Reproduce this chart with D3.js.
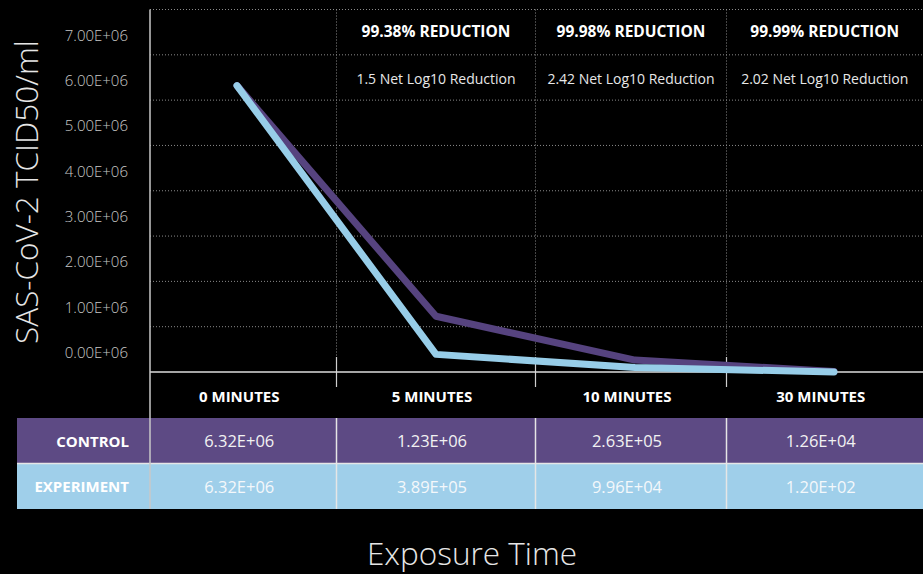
<!DOCTYPE html>
<html>
<head>
<meta charset="utf-8">
<script src="https://cdn.jsdelivr.net/npm/d3@7"></script>
<style>
  html, body { margin: 0; padding: 0; background: #000; }
  svg { display: block; font-family: "Open Sans", "Noto Sans", sans-serif; }
</style>
</head>
<body>
<svg id="chart" width="923" height="574"></svg>
<script>
// ---- data ----
const categories = ["0 MINUTES", "5 MINUTES", "10 MINUTES", "30 MINUTES"];
const seriesNames = ["CONTROL", "EXPERIMENT"];
const controlValues = [6.32e6, 1.23e6, 2.63e5, 1.26e4];
const experimentValues = [6.32e6, 3.89e5, 9.96e4, 1.20e2];
const reductionLabels = ["", "99.38% REDUCTION", "99.98% REDUCTION", "99.99% REDUCTION"];
const logReductionLabels = ["", "1.5 Net Log10 Reduction", "2.42 Net Log10 Reduction", "2.02 Net Log10 Reduction"];
const yTickValues = [0, 1e6, 2e6, 3e6, 4e6, 5e6, 6e6, 7e6];
const yTickLabels = ["0.00E+06", "1.00E+06", "2.00E+06", "3.00E+06", "4.00E+06", "5.00E+06", "6.00E+06", "7.00E+06"];
const yAxisTitle = "SAS-CoV-2 TCID50/ml";
const xAxisTitle = "Exposure Time";

// ---- layout ----
const W = 923, H = 574;
const plotLeft = 150, plotRight = 923, plotTop = 9.5, plotBottom = 372;
const tableLeft = 17, rowTop = 418, rowH = 45.5;
const colors = { control: "#5d4a84", experiment: "#9fcfea", controlLine: "#56437f", experimentLine: "#97cde8" };

const svg = d3.select("#chart");
svg.append("rect").attr("width", W).attr("height", H).attr("fill", "#000");

const y = d3.scaleLinear().domain([0, 8e6]).range([plotBottom, plotTop]);
const x = d3.scalePoint().domain(categories).range([237, 834]);

// column boundaries
const xs = categories.map(c => x(c));
const bounds = [plotLeft];
for (let i = 0; i < xs.length - 1; i++) bounds.push((xs[i] + xs[i + 1]) / 2 - (i === xs.length - 2 ? 8 : 0));
bounds.push(plotRight);
const colCenter = i => (bounds[i] + bounds[i + 1]) / 2;

// horizontal dotted gridlines
svg.append("g")
  .selectAll("line")
  .data(d3.range(1e6, 8e6 + 1, 1e6))
  .join("line")
  .attr("x1", plotLeft).attr("x2", plotRight)
  .attr("y1", d => y(d)).attr("y2", d => y(d))
  .attr("stroke", "#8a8a8a").attr("stroke-width", 1)
  .attr("stroke-dasharray", "1,2");

// vertical dotted gridlines + ticks
const innerBounds = bounds.slice(1, -1);
svg.append("g").selectAll("line").data(innerBounds).join("line")
  .attr("x1", d => d).attr("x2", d => d)
  .attr("y1", plotTop).attr("y2", plotBottom - 15)
  .attr("stroke", "#8a8a8a").attr("stroke-width", 1)
  .attr("stroke-dasharray", "1,2");
svg.append("g").selectAll("line").data(innerBounds).join("line")
  .attr("x1", d => d).attr("x2", d => d)
  .attr("y1", plotBottom - 15).attr("y2", plotBottom + 15)
  .attr("stroke", "#cfcfcf").attr("stroke-width", 1.2);

// y tick labels (sitting between gridlines)
svg.append("g").selectAll("text").data(yTickValues).join("text")
  .attr("x", 128)
  .attr("y", d => y(d) - 20)
  .attr("text-anchor", "end")
  .attr("dominant-baseline", "central")
  .attr("fill", "#c8c8c8")
  .attr("font-size", 15)
  .attr("font-weight", 300)
  .text((d, i) => yTickLabels[i]);

// y axis title
svg.append("text")
  .attr("transform", `translate(38, ${192}) rotate(-90)`)
  .attr("text-anchor", "middle")
  .attr("fill", "#e6e6e6")
  .attr("font-size", 31.5)
  .attr("font-weight", 300)
  .text(yAxisTitle);

// annotation rows
svg.append("g").selectAll("text").data(reductionLabels).join("text")
  .attr("x", (d, i) => colCenter(i))
  .attr("y", y(7.5e6) - 1)
  .attr("text-anchor", "middle")
  .attr("dominant-baseline", "central")
  .attr("fill", "#ffffff")
  .attr("font-size", 15.5)
  .attr("font-weight", 700)
  .text(d => d);
svg.append("g").selectAll("text").data(logReductionLabels).join("text")
  .attr("x", (d, i) => colCenter(i))
  .attr("y", y(6.5e6) + 1.5)
  .attr("text-anchor", "middle")
  .attr("dominant-baseline", "central")
  .attr("fill", "#e8e8e8")
  .attr("font-size", 14)
  .text(d => d);

// lines
const line = d3.line().x((d, i) => x(categories[i])).y(d => y(d));
svg.append("path").datum(controlValues)
  .attr("d", line).attr("fill", "none")
  .attr("stroke", colors.controlLine).attr("stroke-width", 7)
  .attr("stroke-linejoin", "round").attr("stroke-linecap", "round");

// x axis line
svg.append("line")
  .attr("x1", plotLeft).attr("x2", plotRight)
  .attr("y1", plotBottom).attr("y2", plotBottom)
  .attr("stroke", "#dcdcdc").attr("stroke-width", 1.5);

svg.append("path").datum(experimentValues)
  .attr("d", line).attr("fill", "none")
  .attr("stroke", colors.experimentLine).attr("stroke-width", 7)
  .attr("stroke-linejoin", "round").attr("stroke-linecap", "round");

// x category labels
svg.append("g").selectAll("text").data(categories).join("text")
  .attr("x", (d, i) => colCenter(i) - 4)
  .attr("y", 396)
  .attr("text-anchor", "middle")
  .attr("dominant-baseline", "central")
  .attr("fill", "#ffffff")
  .attr("font-size", 15)
  .attr("font-weight", 700)
  .text(d => d);

// table
const fmt = v => {
  const [m, e] = v.toExponential(2).split("e");
  const sign = e[0] === "-" ? "-" : "+";
  const ex = Math.abs(+e).toString().padStart(2, "0");
  return `${m}E${sign}${ex}`;
};
const rows = [
  { name: seriesNames[0], values: controlValues, fill: colors.control, text: "#f2f2f2", label: "#ffffff" },
  { name: seriesNames[1], values: experimentValues, fill: colors.experiment, text: "#f4f8fb", label: "#ffffff" }
];
const tg = svg.append("g");
rows.forEach((r, ri) => {
  const top = rowTop + ri * rowH;
  tg.append("rect").attr("x", tableLeft).attr("y", top).attr("width", plotRight - tableLeft).attr("height", rowH).attr("fill", r.fill);
  tg.append("text").attr("x", 129).attr("y", top + rowH / 2)
    .attr("text-anchor", "end").attr("dominant-baseline", "central")
    .attr("fill", r.label).attr("font-size", 15).attr("font-weight", 700).text(r.name);
  tg.selectAll(null).data(r.values).join("text")
    .attr("x", (d, i) => colCenter(i) - 4)
    .attr("y", top + rowH / 2)
    .attr("text-anchor", "middle").attr("dominant-baseline", "central")
    .attr("fill", r.text).attr("font-size", 16.5).text(d => fmt(d));
});
// table separators
tg.append("line").attr("x1", tableLeft).attr("x2", plotRight)
  .attr("y1", rowTop + rowH).attr("y2", rowTop + rowH)
  .attr("stroke", "#e6e6e6").attr("stroke-width", 1.5);
tg.selectAll(null).data(innerBounds).join("line")
  .attr("x1", d => d).attr("x2", d => d)
  .attr("y1", rowTop).attr("y2", rowTop + 2 * rowH)
  .attr("stroke", "#e6e6e6").attr("stroke-width", 1.5);

// left axis line through table
svg.append("line")
  .attr("x1", plotLeft).attr("x2", plotLeft)
  .attr("y1", plotTop).attr("y2", rowTop + 2 * rowH)
  .attr("stroke", "#c8c8c8").attr("stroke-width", 1.5);

// x axis title
svg.append("text")
  .attr("x", 472).attr("y", 565)
  .attr("text-anchor", "middle")
  .attr("fill", "#e6e6e6")
  .attr("font-size", 31.5)
  .attr("font-weight", 300)
  .text(xAxisTitle);
</script>
</body>
</html>
